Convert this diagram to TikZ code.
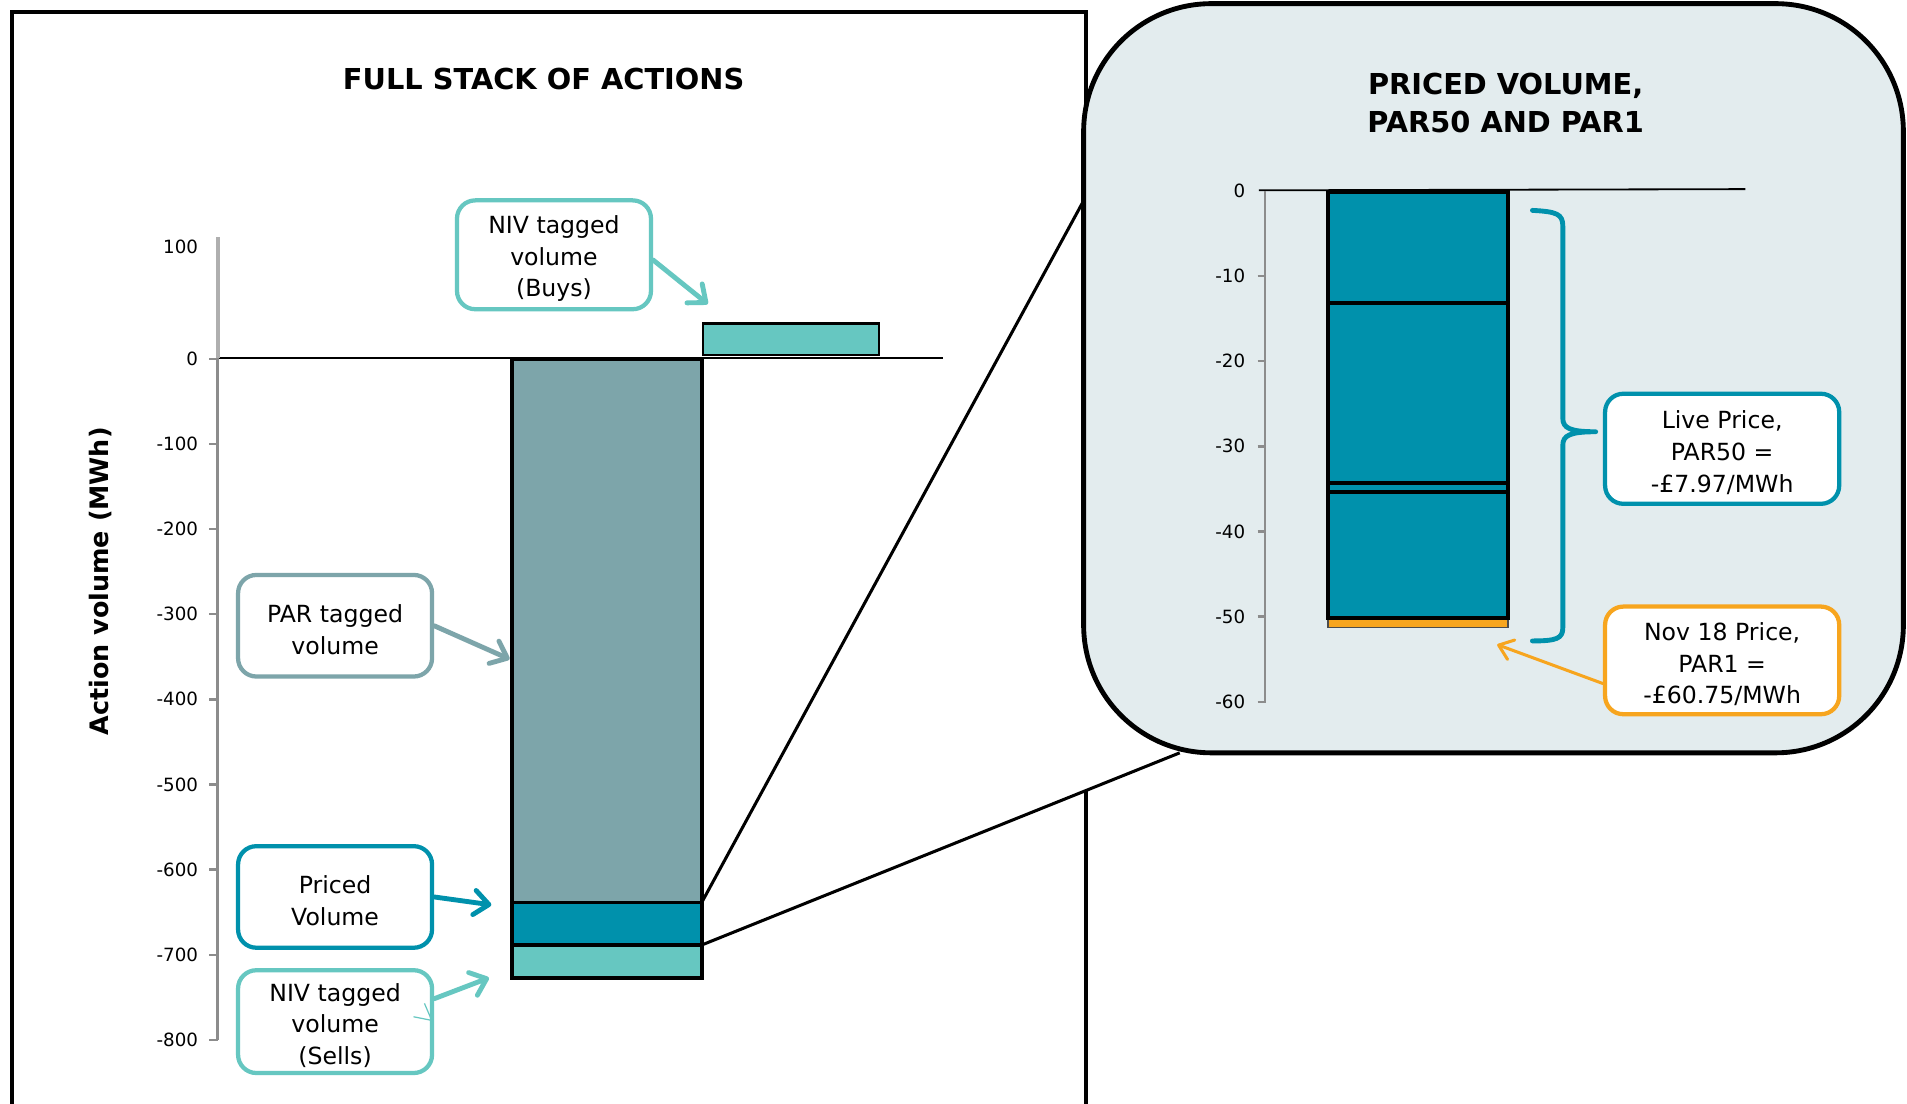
\documentclass[tikz,border=0pt]{standalone}
\usepackage{fontspec}
\setmainfont{DejaVu Sans}
\usetikzlibrary{arrows.meta}
\definecolor{pargray}{HTML}{7DA5AA}
\definecolor{pricedteal}{HTML}{0091AC}
\definecolor{nivteal}{HTML}{66C7C1}
\definecolor{parorange}{HTML}{F7A51E}
\definecolor{panelfill}{HTML}{E3ECEE}
\definecolor{axisgray}{HTML}{8C8C8C}
% extra room above the first line of a callout text
\newcommand{\topstrut}{\rule{0pt}{21pt}}
\begin{document}
\begin{tikzpicture}[x=1pt,y=-1pt,
  callout/.style={draw, fill=white, line width=3.5pt, rounded corners=15pt,
    align=center, inner sep=0pt, text=black, font=\fontsize{19.4}{26}\selectfont},
  callarrow/.style={line width=4pt, line cap=round,
    -{Straight Barb[length=12pt,width=20pt,round]}},
  thinarrow/.style={line width=2.5pt, line cap=round,
    -{Straight Barb[length=11pt,width=17pt,round]}},
  barseg/.style={draw=black, line width=3pt},
  axisline/.style={draw=axisgray, line width=2pt},
  ticklabel/.style={anchor=east, inner sep=0pt, font=\fontsize{15}{18}\selectfont},
  charttitle/.style={align=center, font=\bfseries\fontsize{23.7}{31}\selectfont}
]
\useasboundingbox (0,0) rectangle (1568,907);
\fill[white] (0,0) rectangle (1568,907);

% frame of the full stack chart (runs past the bottom edge)
\begin{scope}
  \clip (0,0) rectangle (1568,907);
  \draw[line width=3.5pt, line join=miter] (10,940) -- (10,10) -- (893,10) -- (893,940);
\end{scope}

% funnel from the priced slice to the detail panel
\coordinate (pvtop) at (577,742);
\coordinate (pvbot) at (577,777);
\coordinate (funA) at (891,165);
\coordinate (funB) at (970,619);
\fill[white] (pvtop) -- (funA) -- (1000,300) -- (funB) -- (pvbot) -- cycle;
\draw[line width=2.5pt] (pvtop) -- (funA);
\draw[line width=2.5pt] (pvbot) -- (funB);

% detail panel
\draw[fill=panelfill, line width=4pt, rounded corners=105pt] (891,3) rectangle (1565,619);

% ---------- full stack chart ----------
\node[charttitle] (lefttitle) at (447,65) {FULL STACK OF ACTIONS};
\node[rotate=90, font=\bfseries\fontsize{20.9}{25}\selectfont] (ytitle) at (83,478) {Action volume (MWh)};

\draw[line width=1.5pt] (179,294.5) -- (775,294.5);
\draw[draw=axisgray!70, line width=3.5pt] (179,195) -- (179,294);
\draw[axisline] (179,294) -- (179,855);
\foreach \y in {295,365,...,855} \draw[axisline] (172,\y) -- (179,\y);
\node[ticklabel] at (163,203) {100};
\foreach \v/\y in {0/295,-100/365,-200/435,-300/505,-400/575,-500/645,-600/715,-700/785,-800/855}
  \node[ticklabel] at (163,\y) {\v};

\draw[barseg, fill=pargray] (421,295) rectangle (577,742);
\draw[barseg, fill=pricedteal] (421,742) rectangle (577,777);
\draw[barseg, fill=nivteal] (421,777) rectangle (577,804);
\draw[draw=black, line width=1.8pt, fill=nivteal] (578,266) rectangle (723,292);

\node[callout, draw=nivteal, minimum width=159.5pt, minimum height=89.5pt] (nivbuy) at (455.5,209.5) {\topstrut NIV tagged\\volume\\(Buys)};
\node[callout, draw=pargray, minimum width=159.5pt, minimum height=83.5pt] (par) at (275.5,514.5) {\topstrut PAR tagged\\volume};
\node[callout, draw=pricedteal, minimum width=159.5pt, minimum height=83.5pt] (priced) at (275.5,737.5) {\topstrut Priced\\Volume};
\node[callout, draw=nivteal, minimum width=159.5pt, minimum height=84.5pt] (nivsell) at (275.5,840) {\topstrut NIV tagged\\volume\\(Sells)};

\coordinate (nivbuytip) at (582,250);
\coordinate (partip) at (419,542);
\coordinate (pricedtip) at (404,744);
\coordinate (nivselltip) at (402,804);
\draw[callarrow, nivteal] (nivbuy.-3) -- (nivbuytip);
\draw[callarrow, pargray] (par.east) -- (partip);
\draw[callarrow, pricedteal] (priced.east) -- (pricedtip);
\draw[callarrow, nivteal] (nivsell.13) -- (nivselltip);
\draw[nivteal, line width=1pt] (340,836) -- (355,839) -- (349,825);

% ---------- priced volume detail ----------
\node[charttitle] (righttitle) at (1238,84.5) {PRICED VOLUME,\\PAR50 AND PAR1};

\draw[line width=1.5pt] (1035,156.5) -- (1435,155.5);
\draw[axisline] (1040,157) -- (1040,578);
\foreach \y in {227,297,...,577} \draw[axisline] (1034,\y) -- (1040,\y);
\foreach \v/\y in {0/157,-10/227,-20/297,-30/367,-40/437,-50/507,-60/577}
  \node[ticklabel] at (1024,\y) {\v};

\draw[draw=black!70, line width=1.2pt, fill=parorange] (1092,509) rectangle (1240,516);
\draw[barseg, fill=pricedteal] (1092,158) rectangle (1240,249);
\draw[barseg, fill=pricedteal] (1092,249) rectangle (1240,397);
\draw[barseg, fill=pricedteal] (1092,397) rectangle (1240,404.5);
\draw[barseg, fill=pricedteal] (1092,404.5) rectangle (1240,508);

% brace over the PAR50 actions
\draw[pricedteal, line width=4pt, line cap=round, line join=round]
  (1260,173) .. controls (1280,174) and (1285,176) .. (1285,186)
  -- (1285,344) .. controls (1285,352) and (1291,355) .. (1312,355)
  .. controls (1291,355) and (1285,358) .. (1285,366)
  -- (1285,516) .. controls (1285,525) and (1280,527) .. (1260,527);

\node[callout, draw=pricedteal, minimum width=192.5pt, minimum height=90.5pt] (live) at (1416,369) {\topstrut Live Price,\\PAR50 =\\-£7.97/MWh};
\node[callout, draw=parorange, minimum width=192.5pt, minimum height=88.5pt] (nov) at (1416,543) {\topstrut Nov 18 Price,\\PAR1 =\\-£60.75/MWh};

\coordinate (par1tip) at (1231,530);
\draw[thinarrow, parorange] (nov.191) -- (par1tip);
\end{tikzpicture}
\end{document}
